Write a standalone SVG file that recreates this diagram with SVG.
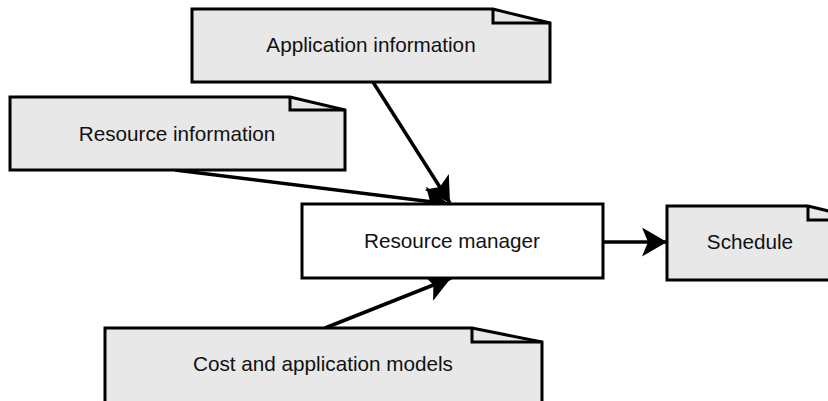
<svg xmlns="http://www.w3.org/2000/svg" width="828" height="401" viewBox="0 0 828 401">
  <style>
    .note { fill: #e8e8e8; stroke: #000; stroke-width: 3; stroke-linejoin: miter; }
    .fold { fill: none; stroke: #000; stroke-width: 3; }
    .box { fill: #fff; stroke: #000; stroke-width: 3; }
    .lbl { font-family: "Liberation Sans", Arial, sans-serif; font-size: 20.7px; fill: #111; text-anchor: middle; }
    .edge { stroke: #000; stroke-width: 3.5; fill: none; }
  </style>
  <defs>
    <marker id="arrow" markerUnits="userSpaceOnUse" markerWidth="30" markerHeight="32" refX="25" refY="14.5" orient="auto">
      <path d="M0,0 L25,14.5 L0,29 L6,14.5 Z" fill="#000"/>
    </marker>
  </defs>

  <rect width="828" height="401" fill="#fff"/>

  <!-- connectors -->
  <g id="connectors">
    <line class="edge" x1="373" y1="82" x2="450" y2="203" marker-end="url(#arrow)"/>
    <line class="edge" x1="175" y1="170" x2="449" y2="204" marker-end="url(#arrow)"/>
    <line class="edge" x1="325" y1="328" x2="451" y2="278" marker-end="url(#arrow)"/>
    <line class="edge" x1="604" y1="242" x2="667" y2="242" marker-end="url(#arrow)"/>
  </g>

  <g id="application-information">
    <path class="note" d="M192,9 H493 L550,23 V82 H192 Z"/>
    <path class="fold" d="M493,9 V23 H550"/>
    <text class="lbl" x="371" y="52">Application information</text>
  </g>

  <g id="resource-information">
    <path class="note" d="M10,97 H290 L345,110 V170 H10 Z"/>
    <path class="fold" d="M290,97 V110 H345"/>
    <text class="lbl" x="177" y="141">Resource information</text>
  </g>

  <g id="resource-manager">
    <rect class="box" x="302" y="204" width="301" height="74"/>
    <text class="lbl" x="452" y="248">Resource manager</text>
  </g>

  <g id="schedule">
    <path class="note" d="M667,206 H808 L865,220 V280 H667 Z"/>
    <path class="fold" d="M808,206 V220 H865"/>
    <text class="lbl" x="750" y="249">Schedule</text>
  </g>

  <g id="cost-and-application-models">
    <path class="note" d="M105,328 H472 L542,342 V420 H105 Z"/>
    <path class="fold" d="M472,328 V342 H542"/>
    <text class="lbl" x="323" y="371">Cost and application models</text>
  </g>
</svg>
